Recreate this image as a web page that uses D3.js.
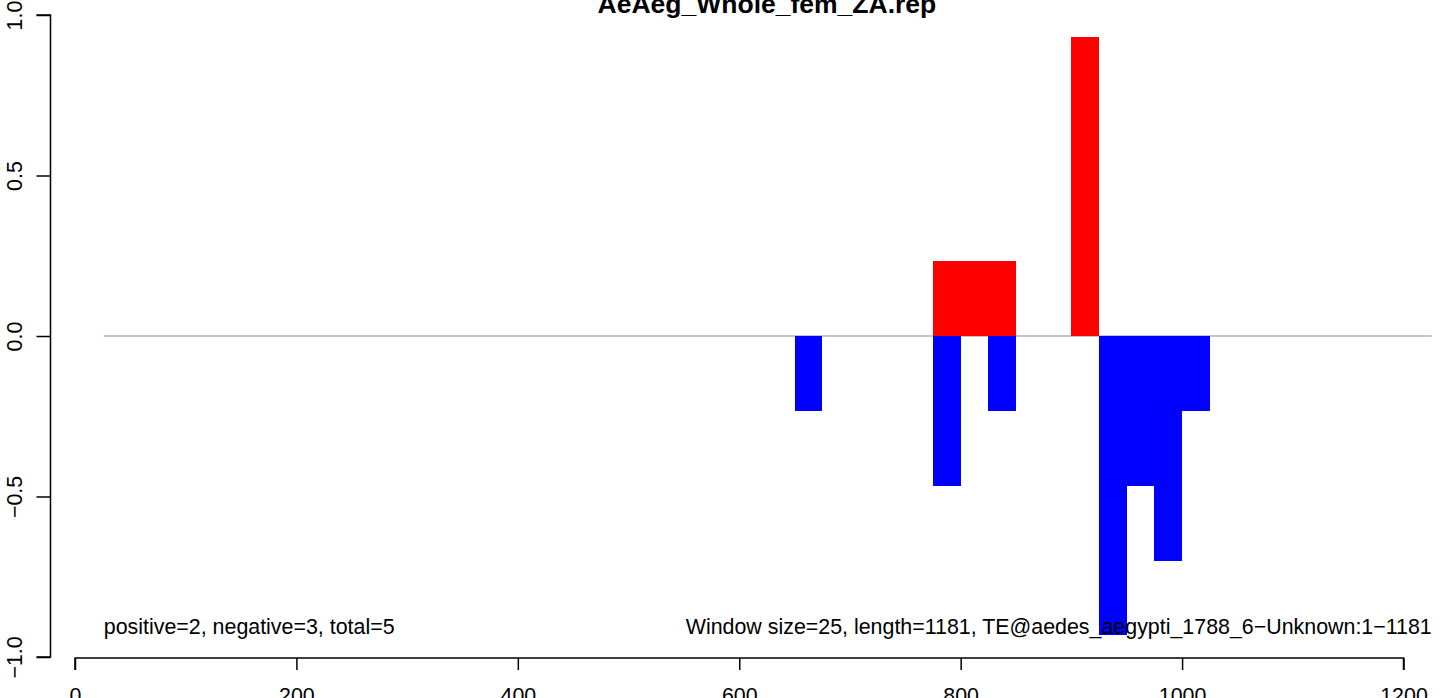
<!DOCTYPE html>
<html>
<head>
<meta charset="utf-8">
<script src="https://cdn.jsdelivr.net/npm/d3@7"></script>
<style>
  html, body { margin: 0; padding: 0; background: #fff; }
  svg { display: block; font-family: "Liberation Sans", Arial, Helvetica, sans-serif; }
</style>
</head>
<body>
<svg id="chart" width="1444" height="698"></svg>
<script>
// ---- data ----
const title = "AeAeg_Whole_fem_ZA.rep";
const windowSize = 25;
const posStarts = [775, 800, 825, 900];
const posValues = [0.233, 0.233, 0.233, 0.933];
const negStarts = [650, 775, 825, 925, 950, 975, 1000];
const negValues = [-0.233, -0.467, -0.233, -0.933, -0.467, -0.7, -0.233];
const xTicks = [0, 200, 400, 600, 800, 1000, 1200];
const yTicks = [-1.0, -0.5, 0.0, 0.5, 1.0];
const yTickLabels = ["\u22121.0", "\u22120.5", "0.0", "0.5", "1.0"];
const leftNote = "positive=2, negative=3, total=5";
const rightNote = "Window size=25, length=1181, TE@aedes_aegypti_1788_6\u2212Unknown:1\u22121181";

// ---- drawing ----
const svg = d3.select("#chart");
const x = d3.scaleLinear().domain([0, 1200]).range([75, 1403.5]);
const y = d3.scaleLinear().domain([-1, 1]).range([657, 15]);

// zero line
svg.append("line")
  .attr("x1", x(26)).attr("x2", x(1225.5))
  .attr("y1", y(0)).attr("y2", y(0))
  .attr("stroke", "#8a8a8a").attr("stroke-width", 1.2);

const pos = posStarts.map((s, i) => ({s, v: posValues[i]}));
const neg = negStarts.map((s, i) => ({s, v: negValues[i]}));

svg.append("g").selectAll("rect").data(pos).join("rect")
  .attr("x", d => x(d.s))
  .attr("width", d => x(d.s + windowSize) - x(d.s))
  .attr("y", d => y(d.v))
  .attr("height", d => y(0) - y(d.v))
  .attr("fill", "#ff0000")
  .attr("shape-rendering", "crispEdges");

svg.append("g").selectAll("rect").data(neg).join("rect")
  .attr("x", d => x(d.s))
  .attr("width", d => x(d.s + windowSize) - x(d.s))
  .attr("y", y(0))
  .attr("height", d => y(d.v) - y(0))
  .attr("fill", "#0000ff")
  .attr("shape-rendering", "crispEdges");

// x axis
const xAxis = d3.axisBottom(x).tickValues(xTicks).tickFormat(d3.format("d")).tickSize(12).tickPadding(18);
const gx = svg.append("g").attr("transform", "translate(0,658)").call(xAxis);
gx.select(".domain").attr("stroke", "#000").attr("stroke-width", 1.5).attr("d", `M${x(0)},12V0H${x(1200)}V12`);
gx.selectAll(".tick line").attr("stroke", "#000").attr("stroke-width", 1.5);
gx.selectAll(".tick text").attr("font-size", 21.4).attr("fill", "#000")
  .attr("font-family", "Liberation Sans, Arial, sans-serif");

// y axis
const yAxis = d3.axisLeft(y).tickValues(yTicks).tickFormat((d, i) => yTickLabels[i]).tickSize(14);
const gy = svg.append("g").attr("transform", "translate(50.5,0)").call(yAxis);
gy.select(".domain").attr("stroke", "#000").attr("stroke-width", 1.5).attr("d", `M-14,${y(-1)}H0V${y(1)}H-14`);
gy.selectAll(".tick line").attr("stroke", "#000").attr("stroke-width", 1.5);
gy.selectAll(".tick text")
  .attr("font-size", 21.4).attr("fill", "#000")
  .attr("font-family", "Liberation Sans, Arial, sans-serif")
  .attr("x", null).attr("dy", null)
  .attr("text-anchor", "middle")
  .attr("transform", "translate(-28.5,0) rotate(-90)");

// title
svg.append("text")
  .attr("x", x(625)).attr("y", 13)
  .attr("text-anchor", "middle")
  .attr("font-size", 26.5).attr("font-weight", "bold")
  .text(title);

// notes
svg.append("text")
  .attr("x", x(26)).attr("y", 634)
  .attr("font-size", 21.4)
  .text(leftNote);
svg.append("text")
  .attr("x", x(1225.5)).attr("y", 634)
  .attr("text-anchor", "end")
  .attr("font-size", 21.4)
  .text(rightNote);
</script>
</body>
</html>
